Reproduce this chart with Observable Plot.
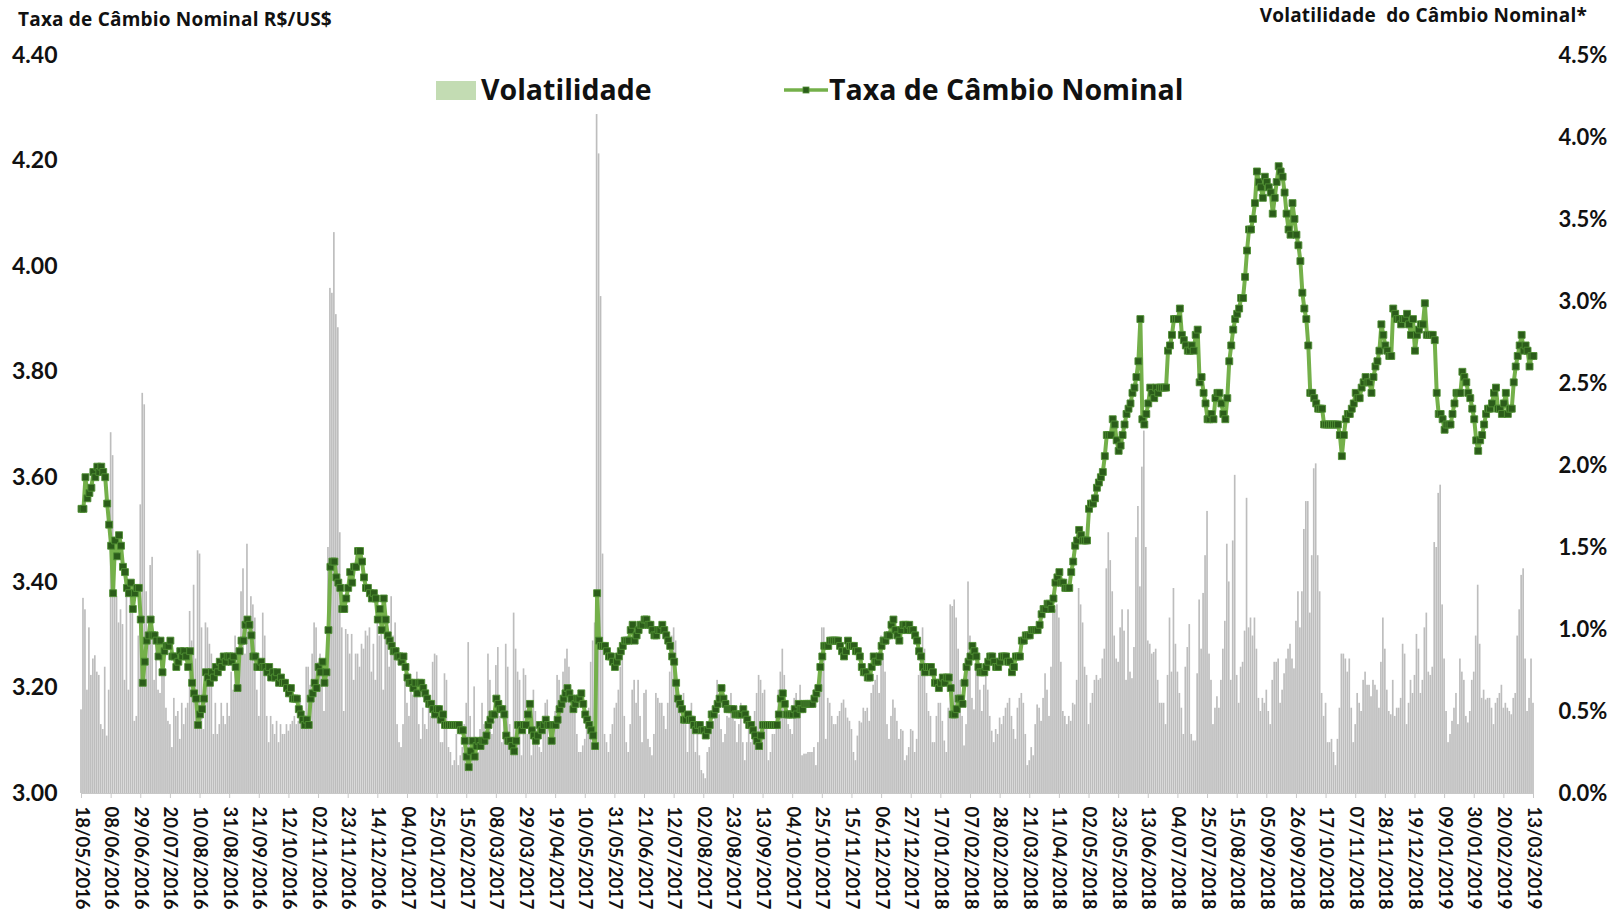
<!DOCTYPE html>
<html><head><meta charset="utf-8">
<script src="https://cdn.jsdelivr.net/npm/d3@7"></script>
<script src="https://cdn.jsdelivr.net/npm/@observablehq/plot@0.6"></script>
<style>
body{margin:0;background:#fff;}
#wrap{position:relative;width:1613px;height:912px;font-family:Lato,"Open Sans",sans-serif;}
#wrap svg{position:absolute;left:0;top:0;}
.t{position:absolute;font-weight:700;color:#111;white-space:pre;line-height:1;font-family:"Open Sans",Lato,sans-serif;}
</style></head><body><div id="wrap"></div>
<script>
// x-axis tick labels (one every 15 weekdays)
const tickLabels = ["18/05/2016","08/06/2016","29/06/2016","20/07/2016","10/08/2016","31/08/2016","21/09/2016","12/10/2016","02/11/2016","23/11/2016","14/12/2016","04/01/2017","25/01/2017","15/02/2017","08/03/2017","29/03/2017","19/04/2017","10/05/2017","31/05/2017","21/06/2017","12/07/2017","02/08/2017","23/08/2017","13/09/2017","04/10/2017","25/10/2017","15/11/2017","06/12/2017","27/12/2017","17/01/2018","07/02/2018","28/02/2018","21/03/2018","11/04/2018","02/05/2018","23/05/2018","13/06/2018","04/07/2018","25/07/2018","15/08/2018","05/09/2018","26/09/2018","17/10/2018","07/11/2018","28/11/2018","19/12/2018","09/01/2019","30/01/2019","20/02/2019","13/03/2019"];

// Taxa de Câmbio Nominal R$/US$ (daily, weekdays)
const rate = [
3.54,3.54,3.60,3.56,3.57,3.58,3.61,3.60,3.62,3.61,3.62,3.61,3.60,3.55,3.51,
3.47,3.38,3.48,3.45,3.49,3.47,3.43,3.42,3.39,3.38,3.40,3.35,3.38,3.39,3.39,
3.33,3.21,3.25,3.29,3.30,3.33,3.30,3.30,3.29,3.26,3.29,3.23,3.27,3.28,3.28,
3.29,3.26,3.26,3.24,3.25,3.27,3.26,3.27,3.26,3.24,3.27,3.21,3.19,3.18,3.13,
3.15,3.16,3.18,3.23,3.22,3.21,3.23,3.22,3.24,3.23,3.25,3.24,3.26,3.25,3.26,
3.26,3.25,3.26,3.24,3.20,3.27,3.29,3.29,3.32,3.33,3.32,3.30,3.26,3.26,3.24,
3.24,3.25,3.24,3.24,3.23,3.24,3.22,3.23,3.22,3.23,3.21,3.22,3.21,3.21,3.20,
3.19,3.20,3.18,3.18,3.18,3.16,3.15,3.14,3.13,3.14,3.13,3.18,3.19,3.21,3.20,
3.24,3.23,3.25,3.21,3.23,3.31,3.43,3.44,3.44,3.41,3.40,3.39,3.35,3.35,3.37,
3.39,3.42,3.40,3.43,3.43,3.46,3.46,3.44,3.41,3.39,3.39,3.38,3.37,3.38,3.37,
3.33,3.35,3.31,3.37,3.33,3.30,3.29,3.28,3.27,3.27,3.26,3.26,3.25,3.26,3.24,
3.22,3.21,3.21,3.20,3.21,3.19,3.21,3.21,3.20,3.19,3.18,3.17,3.17,3.16,3.15,
3.16,3.16,3.14,3.15,3.13,3.13,3.13,3.13,3.13,3.13,3.13,3.13,3.12,3.12,3.10,
3.07,3.05,3.08,3.10,3.07,3.09,3.10,3.09,3.10,3.10,3.11,3.13,3.14,3.15,3.15,
3.18,3.17,3.16,3.16,3.15,3.11,3.10,3.10,3.09,3.08,3.10,3.13,3.13,3.12,3.13,
3.13,3.15,3.17,3.12,3.11,3.10,3.11,3.13,3.12,3.13,3.14,3.13,3.13,3.10,3.13,
3.13,3.14,3.16,3.17,3.18,3.19,3.20,3.19,3.18,3.16,3.17,3.18,3.18,3.19,3.17,
3.15,3.14,3.13,3.12,3.11,3.09,3.38,3.29,3.28,3.28,3.28,3.27,3.26,3.26,3.25,
3.24,3.25,3.26,3.27,3.28,3.29,3.29,3.29,3.31,3.32,3.29,3.30,3.31,3.32,3.32,
3.33,3.33,3.32,3.32,3.31,3.30,3.30,3.31,3.31,3.32,3.31,3.30,3.29,3.28,3.26,
3.25,3.21,3.18,3.17,3.16,3.14,3.14,3.15,3.14,3.14,3.13,3.12,3.13,3.13,3.12,
3.12,3.11,3.12,3.13,3.15,3.15,3.16,3.17,3.18,3.20,3.18,3.17,3.16,3.16,3.16,
3.16,3.15,3.15,3.15,3.15,3.16,3.15,3.14,3.13,3.13,3.12,3.11,3.10,3.09,3.11,
3.13,3.13,3.13,3.13,3.13,3.13,3.13,3.13,3.15,3.18,3.19,3.17,3.15,3.15,3.15,
3.15,3.16,3.15,3.17,3.16,3.16,3.17,3.17,3.17,3.17,3.17,3.18,3.19,3.20,3.24,
3.26,3.28,3.28,3.28,3.29,3.29,3.29,3.29,3.29,3.28,3.27,3.26,3.27,3.29,3.28,
3.28,3.28,3.27,3.27,3.26,3.24,3.23,3.23,3.22,3.22,3.24,3.26,3.25,3.25,3.26,
3.28,3.29,3.29,3.30,3.30,3.32,3.33,3.31,3.30,3.29,3.31,3.32,3.32,3.31,3.32,
3.31,3.31,3.30,3.29,3.27,3.26,3.24,3.23,3.24,3.24,3.24,3.23,3.21,3.21,3.20,
3.21,3.22,3.21,3.22,3.22,3.20,3.15,3.15,3.16,3.18,3.18,3.17,3.21,3.24,3.25,
3.26,3.28,3.27,3.26,3.24,3.23,3.23,3.23,3.24,3.25,3.26,3.26,3.25,3.24,3.24,
3.25,3.26,3.26,3.26,3.25,3.25,3.23,3.24,3.26,3.26,3.26,3.29,3.29,3.30,3.30,
3.30,3.31,3.31,3.31,3.31,3.32,3.34,3.35,3.35,3.36,3.36,3.35,3.37,3.40,3.41,
3.42,3.40,3.40,3.39,3.39,3.39,3.42,3.44,3.47,3.48,3.50,3.49,3.48,3.48,3.48,
3.54,3.55,3.55,3.56,3.58,3.59,3.60,3.61,3.64,3.68,3.68,3.68,3.71,3.70,3.67,
3.65,3.66,3.68,3.70,3.72,3.73,3.74,3.76,3.77,3.79,3.82,3.90,3.71,3.70,3.72,
3.74,3.77,3.76,3.75,3.77,3.76,3.77,3.77,3.77,3.77,3.84,3.85,3.87,3.90,3.90,
3.90,3.92,3.87,3.86,3.85,3.84,3.84,3.85,3.84,3.87,3.88,3.78,3.79,3.76,3.74,
3.71,3.71,3.72,3.71,3.75,3.76,3.76,3.74,3.72,3.71,3.75,3.82,3.85,3.88,3.90,
3.91,3.92,3.94,3.94,3.98,4.03,4.07,4.07,4.09,4.12,4.18,4.16,4.15,4.13,4.17,
4.16,4.15,4.14,4.10,4.13,4.16,4.19,4.18,4.17,4.14,4.10,4.07,4.06,4.12,4.09,
4.06,4.04,4.01,3.95,3.92,3.90,3.85,3.76,3.76,3.75,3.74,3.73,3.73,3.73,3.70,
3.70,3.70,3.70,3.70,3.70,3.70,3.70,3.68,3.64,3.68,3.71,3.72,3.72,3.73,3.74,
3.76,3.75,3.75,3.77,3.78,3.79,3.78,3.78,3.76,3.79,3.81,3.82,3.84,3.89,3.87,
3.85,3.84,3.83,3.83,3.92,3.91,3.90,3.90,3.89,3.90,3.90,3.91,3.89,3.87,3.90,
3.84,3.87,3.88,3.89,3.89,3.93,3.87,3.87,3.87,3.87,3.86,3.76,3.72,3.72,3.71,
3.69,3.70,3.70,3.70,3.72,3.74,3.76,3.76,3.76,3.80,3.79,3.78,3.76,3.75,3.73,
3.71,3.67,3.65,3.67,3.68,3.70,3.72,3.73,3.73,3.74,3.76,3.77,3.73,3.73,3.72,
3.74,3.76,3.72,3.73,3.73,3.78,3.81,3.83,3.85,3.87,3.84,3.85,3.84,3.81,3.83,
3.83];

// Volatilidade do Câmbio Nominal (%)
const vol = [
0.51,1.19,1.12,0.63,1.01,0.72,0.82,0.84,0.74,0.72,0.42,0.39,0.77,0.35,0.63,
2.20,2.06,1.23,1.20,1.04,1.12,1.03,0.69,1.37,0.63,1.23,1.15,0.44,0.47,0.96,
1.76,2.44,2.37,1.23,0.96,1.39,1.44,0.69,0.96,0.63,0.61,0.85,0.72,0.52,0.44,
0.42,0.28,0.58,0.47,0.50,0.33,0.55,0.42,0.52,0.55,1.11,0.93,1.27,0.82,1.48,
1.46,1.01,0.39,1.04,1.01,0.91,0.85,0.36,0.55,0.36,0.42,0.55,0.47,0.42,0.55,
0.47,0.74,0.63,0.96,0.80,0.69,1.23,1.37,0.85,1.52,0.96,1.20,1.15,1.07,0.63,
0.47,0.77,1.10,0.96,0.47,0.31,0.47,0.42,0.36,0.44,0.31,0.42,0.36,0.36,0.42,
0.38,0.42,0.44,0.47,0.42,0.44,0.58,0.52,0.47,0.77,0.77,0.66,0.85,1.04,1.01,
0.80,0.85,0.74,0.50,0.69,1.50,3.08,3.05,3.42,2.92,2.84,1.59,1.01,0.50,1.00,
0.97,0.85,0.97,0.69,0.85,0.85,0.77,0.91,0.88,0.99,0.96,1.01,0.74,0.91,0.69,
1.20,0.96,0.99,0.63,1.12,1.04,0.77,1.20,0.96,1.04,0.42,0.31,0.28,0.42,0.69,
0.55,0.47,0.63,0.60,0.69,0.74,0.42,0.33,0.52,0.42,0.39,0.55,0.47,0.80,0.85,
0.84,0.52,0.31,0.31,0.73,0.69,0.28,0.25,0.17,0.20,0.36,0.17,0.23,0.28,0.42,
0.55,0.92,0.47,0.25,0.65,0.31,0.25,0.39,0.55,0.42,0.38,0.85,0.69,0.36,0.44,
0.78,0.89,0.47,0.31,0.51,0.91,0.77,0.42,0.28,1.10,0.88,0.74,0.69,0.23,0.76,
0.72,0.36,0.47,0.23,0.63,0.50,0.40,0.28,0.25,0.42,0.55,0.57,0.31,0.33,0.36,
0.50,0.72,0.69,0.52,0.74,0.82,0.88,0.77,0.55,0.52,0.50,0.36,0.25,0.25,0.29,
0.33,0.42,0.52,0.80,0.93,1.04,4.14,3.90,3.03,1.46,0.36,0.31,0.25,0.36,0.42,
0.52,0.55,0.63,0.77,0.85,0.47,0.31,0.25,0.42,0.63,0.69,0.55,0.69,0.47,0.31,
0.61,0.63,0.33,0.28,0.23,0.36,0.61,0.58,0.55,0.55,0.47,0.39,0.55,0.74,0.96,
1.01,0.93,0.69,0.55,0.47,0.61,0.42,0.25,0.47,0.55,0.36,0.25,0.36,0.23,0.14,
0.12,0.09,0.25,0.28,0.50,0.44,0.47,0.69,0.48,0.39,0.31,0.36,0.47,0.46,0.61,
0.47,0.44,0.31,0.42,0.55,0.31,0.20,0.31,0.47,0.31,0.42,0.50,0.61,0.72,0.69,
0.61,0.63,0.42,0.20,0.25,0.36,0.36,0.50,0.63,0.74,0.88,0.72,0.55,0.42,0.39,
0.36,0.58,0.61,0.47,0.66,0.23,0.24,0.24,0.25,0.25,0.25,0.28,0.17,0.31,0.80,
1.01,1.01,0.33,0.58,0.55,0.47,0.42,0.42,0.47,0.50,0.55,0.57,0.52,0.46,0.44,
0.39,0.25,0.20,0.35,0.44,0.43,0.52,0.50,0.52,0.44,0.61,0.66,0.69,0.72,0.61,
0.96,0.85,0.74,0.42,0.33,0.47,0.57,0.52,0.44,0.33,0.39,0.38,0.20,0.23,0.28,
0.39,0.38,0.25,0.33,0.72,0.85,1.01,0.88,0.61,0.50,0.47,0.31,0.31,0.47,0.55,
0.55,0.44,0.32,0.25,0.52,1.15,1.14,1.18,1.07,0.88,0.69,0.47,0.29,0.42,1.29,
0.96,0.58,0.51,0.80,0.82,0.63,0.50,0.66,0.74,0.63,0.47,0.38,0.31,0.39,0.36,
0.46,0.42,0.47,0.52,0.55,0.58,0.47,0.39,0.33,0.52,0.58,0.61,0.55,0.36,0.17,
0.20,0.28,0.23,0.42,0.54,0.52,0.44,0.58,0.73,0.63,0.47,0.77,1.10,1.12,1.15,
1.07,0.80,0.50,0.47,0.42,0.47,0.44,0.55,0.54,0.69,1.25,1.15,1.04,0.77,0.72,
0.42,0.55,0.61,0.69,0.72,0.69,0.70,0.82,0.88,1.37,1.59,1.42,1.23,0.96,0.82,
0.80,1.01,1.12,0.99,0.69,1.12,0.74,0.70,0.89,1.56,1.75,1.26,1.99,2.21,1.50,
0.93,0.91,0.85,0.86,0.88,0.69,0.55,0.55,0.55,0.42,0.72,1.07,0.74,1.25,0.91,
0.74,0.61,0.52,0.36,0.77,0.89,1.03,0.36,0.32,0.32,0.73,1.18,0.88,1.22,1.45,
1.72,0.85,0.69,0.42,0.52,0.59,0.52,0.69,0.88,1.05,1.52,1.29,0.69,1.54,1.94,
0.72,0.55,0.77,0.80,0.99,1.80,1.01,1.07,0.96,1.07,0.88,0.58,0.50,0.58,0.55,
0.63,0.50,0.42,0.69,0.80,0.80,0.82,0.55,0.63,0.73,0.82,0.88,0.91,0.82,0.76,
1.05,1.23,1.01,1.23,1.61,1.78,1.78,1.10,1.45,1.98,2.01,1.45,1.23,0.61,0.47,
0.55,0.31,0.31,0.33,0.25,0.17,0.33,0.52,0.85,0.85,0.82,0.74,0.82,0.52,0.31,
0.42,0.61,0.55,0.50,0.69,0.74,0.66,0.66,0.59,0.69,0.66,0.63,0.52,0.80,1.07,
0.88,0.63,0.50,0.48,0.69,0.47,0.52,0.52,0.58,0.91,0.85,0.42,0.55,0.69,0.61,
0.72,0.97,0.88,0.61,0.69,1.01,1.10,0.74,0.72,0.77,1.53,1.50,1.83,1.88,1.15,
0.82,0.50,0.31,0.36,0.44,0.52,0.61,0.42,0.82,0.74,0.69,0.47,0.43,0.50,0.69,
0.74,0.96,1.27,0.91,0.58,0.63,0.57,0.58,0.58,0.52,0.42,0.55,0.58,0.61,0.66,
0.52,0.55,0.52,0.50,0.48,0.58,0.61,0.96,1.12,1.33,1.37,0.82,0.50,0.58,0.82,
0.55];

const leftTicks = [3.00,3.20,3.40,3.60,3.80,4.00,4.20,4.40];
const rightTicks = [0,0.5,1.0,1.5,2.0,2.5,3.0,3.5,4.0,4.5];

// secondary axis: 0–4.5 % mapped onto the 3.00–4.40 range of the primary axis
const Y0 = 3.0, Y1 = 4.4, V1 = 4.5;
const vy = v => Y0 + v * (Y1 - Y0) / V1;

const n = Math.min(rate.length, vol.length);
const data = d3.range(n).map(i => ({i, rate: rate[i], vol: vol[i]}));
const tickIdx = tickLabels.map((_, k) => k * 15);

const chart = Plot.plot({
  width: 1613, height: 912,
  marginTop: 55, marginBottom: 119, marginLeft: 81, marginRight: 80,
  style: {fontFamily: "Lato, 'Open Sans', sans-serif", background: "transparent", overflow: "visible", color: "#111"},
  x: {domain: [0, tickIdx[tickIdx.length - 1]], label: null},
  y: {domain: [Y0, Y1], label: null},
  marks: [
    Plot.rectY(data, {x1: d => d.i - 0.42, x2: d => d.i + 0.42, y1: Y0, y2: d => vy(d.vol), fill: "#bdbdbd"}),
    Plot.ruleY([Y0], {stroke: "#c8c8c8", strokeWidth: 1}),
    Plot.axisX(tickIdx, {anchor: "bottom", tickSize: 5, stroke: "#c8c8c8", tickRotate: 90, tickPadding: 8,
      tickFormat: d => tickLabels[d / 15], fontSize: 18.5, fontWeight: "bold", fill: "#111"}),
    Plot.axisY(leftTicks, {anchor: "left", tickSize: 0, tickPadding: 24, tickFormat: d => d.toFixed(2),
      fontSize: 23, fontWeight: "bold", fill: "#111"}),
    Plot.axisY(rightTicks.map(vy), {anchor: "right", tickSize: 0, tickPadding: 25,
      tickFormat: d => ((d - Y0) * V1 / (Y1 - Y0)).toFixed(1) + "%", fontSize: 22, fontWeight: "bold", fill: "#111"}),
    Plot.line(data, {x: "i", y: "rate", stroke: "#74b04a", strokeWidth: 4}),
    Plot.dot(data, {x: "i", y: "rate", symbol: "square", r: 3.9, fill: "#2b5c1a", stroke: "#4f8e33", strokeWidth: 0.9})
  ]
});

const wrap = document.getElementById("wrap");
wrap.appendChild(chart);

function addText(txt, css) {
  const d = document.createElement("div");
  d.className = "t";
  d.textContent = txt;
  Object.assign(d.style, css);
  wrap.appendChild(d);
  return d;
}
addText("Taxa de Câmbio Nominal R$/US$", {left: "18px", top: "10px", fontSize: "19px", letterSpacing: "0.2px"});
addText("Volatilidade  do Câmbio Nominal*", {right: "26px", top: "6px", fontSize: "19px", letterSpacing: "0.2px"});

// legend
const sw = document.createElement("div");
Object.assign(sw.style, {position: "absolute", left: "436px", top: "81px", width: "40px", height: "19px", background: "#c3dcb3"});
wrap.appendChild(sw);
addText("Volatilidade", {left: "481px", top: "75px", fontSize: "28.5px"});
const ls = d3.create("svg").attr("width", 44).attr("height", 20)
  .style("position", "absolute").style("left", "784px").style("top", "80px");
ls.append("line").attr("x1", 0).attr("x2", 44).attr("y1", 10).attr("y2", 10).attr("stroke", "#74b04a").attr("stroke-width", 3.5);
ls.append("rect").attr("x", 19).attr("y", 7).attr("width", 6).attr("height", 6).attr("fill", "#2b5c1a").attr("stroke", "#4f8e33").attr("stroke-width", 0.8);
wrap.appendChild(ls.node());
addText("Taxa de Câmbio Nominal", {left: "829px", top: "75px", fontSize: "28.5px"});
</script>
</body></html>
